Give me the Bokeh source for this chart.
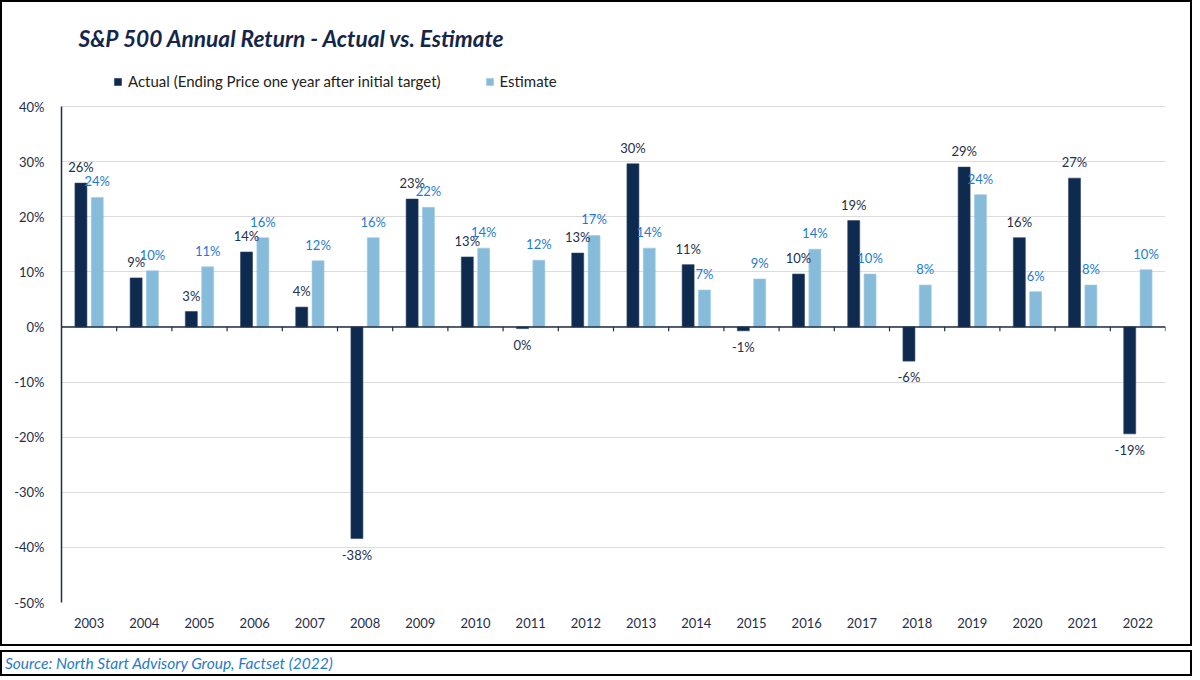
from bokeh.plotting import figure
from bokeh.models import (FactorRange, Range1d, ColumnDataSource, Legend, LegendItem,
                          FixedTicker, PrintfTickFormatter, Span, Label, Div)
from bokeh.layouts import column
from bokeh.transform import dodge
from bokeh.core.properties import value
from bokeh.embed import file_html
from bokeh.resources import INLINE

# ---------------- data ----------------
years = ["2003", "2004", "2005", "2006", "2007", "2008", "2009", "2010", "2011", "2012",
         "2013", "2014", "2015", "2016", "2017", "2018", "2019", "2020", "2021", "2022"]
actual = [26.1, 8.9, 2.8, 13.6, 3.6, -38.4, 23.2, 12.7, -0.3, 13.4,
          29.6, 11.3, -0.7, 9.6, 19.3, -6.2, 29.0, 16.2, 27.0, -19.4]
estimate = [23.5, 10.2, 10.9, 16.2, 12.0, 16.2, 21.7, 14.3, 12.1, 16.6,
            14.3, 6.7, 8.7, 14.1, 9.6, 7.6, 24.0, 6.4, 7.6, 10.4]
y_ticks = [-50, -40, -30, -20, -10, 0, 10, 20, 30, 40]

title_text = "S&P 500 Annual Return - Actual vs. Estimate"
legend_labels = ["Actual (Ending Price one year after initial target)", "Estimate"]
source_text = "Source: North Start Advisory Group, Factset (2022)"

# ---------------- styles ----------------
ACT = "#0E2A4F"
EST = "#86BCDA"
ACT_LBL = "#22304D"
EST_LBL = "#1C7BD0"
AXIS = "#1F2D4A"
FONT = "Lato"


def pct(v):
    return f"{int(round(v))}%"


src = ColumnDataSource(dict(
    year=years,
    actual=actual,
    estimate=estimate,
    act_lbl=[pct(v) for v in actual],
    est_lbl=[pct(v) for v in estimate],
    act_off=[-16 if v >= 0 else 16 for v in actual],
    est_off=[-16 if v >= 0 else 16 for v in estimate],
))

W, H = 1192, 646
FRAME_H = 600          # frame spans canvas y 0..600
AXIS_H = 496           # pixel height of the -50%..40% axis span
y_lo, y_hi = y_ticks[0], y_ticks[-1]
y_top = y_lo + (y_hi - y_lo) * FRAME_H / AXIS_H   # frame extends above 40% to hold title/legend

p = figure(width=W, height=H, x_range=FactorRange(*years), y_range=Range1d(y_lo, y_top),
           output_backend="svg", toolbar_location=None,
           min_border_left=59, min_border_right=29, min_border_top=0, min_border_bottom=H - FRAME_H,
           background_fill_color="white", border_fill_color="white",
           styles={"border": "2px solid black"})
p.outline_line_color = None

# axes
p.yaxis.ticker = FixedTicker(ticks=y_ticks)
p.yaxis.bounds = (y_lo, y_hi)
p.yaxis.formatter = PrintfTickFormatter(format="%d%%")
p.yaxis.axis_line_color = AXIS
p.yaxis.axis_line_width = 1.5
p.yaxis.major_tick_line_color = None
p.yaxis.minor_tick_line_color = None
p.yaxis.major_label_standoff = 11
p.yaxis.major_label_text_font = FONT
p.yaxis.major_label_text_font_size = "13px"
p.yaxis.major_label_text_color = AXIS

p.xaxis.axis_line_color = None
p.xaxis.major_tick_line_color = None
p.xaxis.minor_tick_line_color = None
p.xaxis.major_label_standoff = 9
p.xaxis.major_label_text_font = FONT
p.xaxis.major_label_text_font_size = "13px"
p.xaxis.major_label_text_color = AXIS

p.xgrid.grid_line_color = None
p.ygrid.ticker = FixedTicker(ticks=y_ticks)
p.ygrid.grid_line_color = "#DCDCDC"
p.ygrid.grid_line_width = 1

# bars
r_act = p.vbar(x=dodge("year", -0.148, range=p.x_range), top="actual", width=0.217,
               source=src, fill_color=ACT, line_color="#2A4468", line_width=0.6)
r_est = p.vbar(x=dodge("year", 0.148, range=p.x_range), top="estimate", width=0.217,
               source=src, fill_color=EST, line_color="#9CCAE2", line_width=0.6)

# zero line and category boundary ticks
p.add_layout(Span(location=0, dimension="width", line_color=AXIS, line_width=1.5))
p.segment(x0=dodge("year", 0.5, range=p.x_range), y0=0,
          x1=dodge("year", 0.5, range=p.x_range), y1=-0.8,
          source=src, line_color=AXIS, line_width=1.2)

# value labels
p.text(x=dodge("year", -0.148, range=p.x_range), y="actual", text="act_lbl", y_offset="act_off",
       source=src, text_align="center", text_baseline="middle",
       text_font=value(FONT), text_font_size="13px", text_color=ACT_LBL)
p.text(x=dodge("year", 0.148, range=p.x_range), y="estimate", text="est_lbl", y_offset="est_off",
       source=src, text_align="center", text_baseline="middle",
       text_font=value(FONT), text_font_size="13px", text_color=EST_LBL)

# legend (inside the extended frame, above the 40% line)
legend = Legend(items=[LegendItem(label=legend_labels[0], renderers=[r_act]),
                       LegendItem(label=legend_labels[1], renderers=[r_est])],
                location=(52, 512), orientation="horizontal",
                padding=0, margin=0, spacing=44, label_standoff=6,
                glyph_width=9, glyph_height=9, label_height=18,
                label_text_font=FONT, label_text_font_size="15px", label_text_color="#222222",
                border_line_color=None, background_fill_alpha=0)
p.add_layout(legend)

# title
p.add_layout(Label(x=17, y=564, x_units="screen", y_units="screen", text=title_text,
                   text_font=FONT, text_font_size="22.7px", text_font_style="bold italic",
                   text_color="#14264A", text_baseline="middle"))

source_div = Div(text=source_text, width=W, height=26, margin=(4, 0, 0, 0),
                 styles={"border": "2px solid black", "font-family": "Lato",
                         "font-style": "italic", "font-size": "15.5px", "color": "#1F7ACB",
                         "padding-left": "3px", "line-height": "23px"})

layout = column(p, source_div, spacing=0)

open("out.html", "w").write(file_html(layout, INLINE))
